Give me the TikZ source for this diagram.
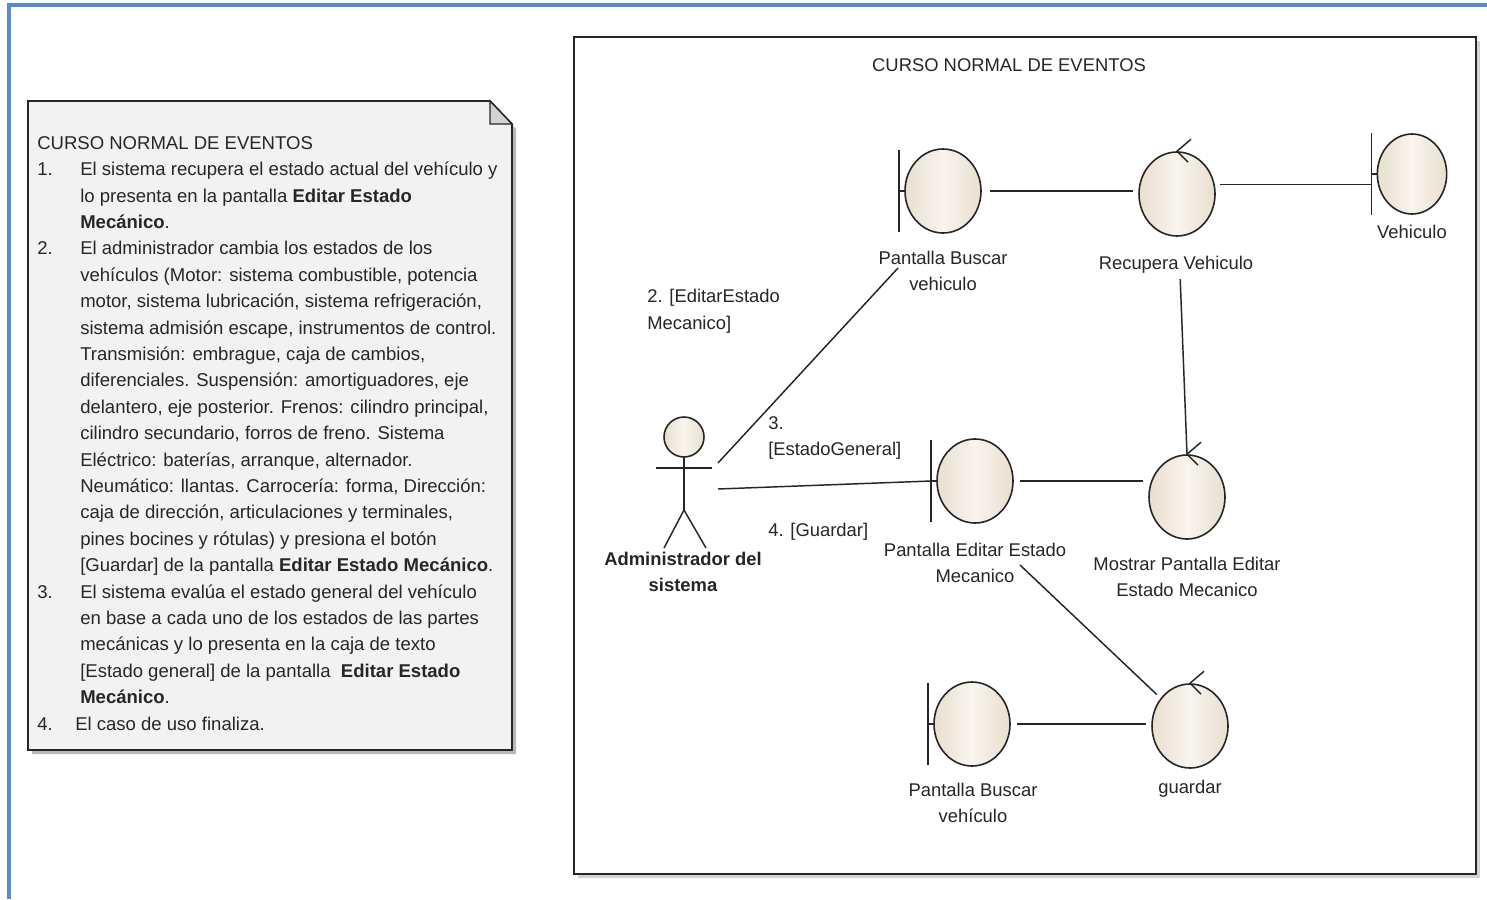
\documentclass[tikz,border=0pt]{standalone}
\usepackage{fontspec}
\setmainfont{Liberation Sans}
\usetikzlibrary{shapes.geometric,calc}

\definecolor{frameblue}{HTML}{5A8AD2}
\definecolor{inkgray}{HTML}{262626}
\definecolor{notefill}{HTML}{F2F2F2}
\definecolor{foldgray}{HTML}{D2D2D2}
\definecolor{shadowgray}{HTML}{B8B8B8}
\definecolor{beige}{HTML}{EADFCF}
\definecolor{beigelight}{HTML}{F8F4EF}

% item number column and continuation indent of the note
\newcommand\noteitem[1]{\makebox[32.25pt][l]{#1}}
\newcommand\notecont{\hspace*{32.25pt}}
% boundary bar on the left of an object
\newcommand\umlbar[1]{%
  \coordinate (#1bar) at ($(#1.west)+(-5,0)$);
  \draw[conn] ($(#1bar)+(0,-41)$) -- ($(#1bar)+(0,41)$);
  \draw[conn] (#1bar) -- (#1.west);}
% arrow mark on top of a control object
\newcommand\umlctl[1]{%
  \draw[conn] ($(#1.north)+(14,-12)$) -- (#1.north) -- ($(#1.north)+(11,11)$);}

\begin{document}
\begin{tikzpicture}[x=0.75pt,y=-0.75pt,
  lbl/.style={font=\fontsize{13.8}{20}\selectfont, text=inkgray, align=center, inner sep=0pt},
  obj/.style={ellipse, draw=inkgray, line width=1.2pt, minimum width=57pt, minimum height=63pt,
    inner sep=0pt, left color=beige, right color=beige, middle color=beigelight},
  conn/.style={draw=inkgray, line width=1.1pt}]
\useasboundingbox (0,0) rectangle (1487,899);

% page frame
\draw[frameblue, line width=2.3pt] (9,899) -- (9,5) -- (1487,5);

% ---------- note with the event flow ----------
\fill[shadowgray] (32,105) -- (494,105) -- (516,129) -- (516,754) -- (32,754) -- cycle;
\draw[inkgray, line width=1.3pt, fill=notefill]
  (28,101) -- (490,101) -- (512,124) -- (512,750) -- (28,750) -- cycle;
\draw[inkgray, line width=1pt, fill=foldgray] (490,101) -- (490,124) -- (512,124) -- cycle;

\node[anchor=north west, inner sep=0pt, align=left, text=inkgray,
      font=\fontsize{13.9}{19.8}\selectfont] (notetext) at (37,136) {%
CURSO NORMAL DE EVENTOS\\
\noteitem{1.}El sistema recupera el estado actual del vehículo y\\
\notecont lo presenta en la pantalla \textbf{Editar Estado}\\
\notecont\textbf{Mecánico}.\\
\noteitem{2.}El administrador cambia los estados de los\\
\notecont vehículos (Motor: sistema combustible, potencia\\
\notecont motor, sistema lubricación, sistema refrigeración,\\
\notecont sistema admisión escape, instrumentos de control.\\
\notecont Transmisión: embrague, caja de cambios,\\
\notecont diferenciales. Suspensión: amortiguadores, eje\\
\notecont delantero, eje posterior. Frenos: cilindro principal,\\
\notecont cilindro secundario, forros de freno. Sistema\\
\notecont Eléctrico: baterías, arranque, alternador.\\
\notecont Neumático: llantas. Carrocería: forma, Dirección:\\
\notecont caja de dirección, articulaciones y terminales,\\
\notecont pines bocines y rótulas) y presiona el botón\\
\notecont{}[Guardar] de la pantalla \textbf{Editar Estado Mecánico}.\\
\noteitem{3.}El sistema evalúa el estado general del vehículo\\
\notecont en base a cada uno de los estados de las partes\\
\notecont mecánicas y lo presenta en la caja de texto\\
\notecont{}[Estado general] de la pantalla \ \textbf{Editar Estado}\\
\notecont\textbf{Mecánico}.\\
\makebox[28.5pt][l]{4.}El caso de uso finaliza.};

% ---------- robustness diagram ----------
\fill[shadowgray!60] (578,41) rectangle (1480,878);
\draw[inkgray, line width=1.4pt, fill=white] (574,37) rectangle (1476,874);
\node[lbl] (title) at (1009,65) {CURSO NORMAL DE EVENTOS};

% objects
\node[obj] (b1) at (943,191) {};
\node[obj] (c1) at (1177,194) {};
\node[obj, minimum width=52pt, minimum height=60pt] (b2) at (1412,174) {};
\node[obj] (b3) at (975,481) {};
\node[obj] (c2) at (1187,497) {};
\node[obj] (b4) at (972,724) {};
\node[obj] (c3) at (1190,726) {};
\umlbar{b1}
\umlbar{b2}
\umlbar{b3}
\umlbar{b4}
\umlctl{c1}
\umlctl{c2}
\umlctl{c3}

% object names
\node[lbl] (b1l) at (943,271) {Pantalla Buscar\\vehiculo};
\node[lbl] (c1l) at (1176,265) {Recupera Vehiculo};
\node[lbl] (b2l) at (1412,232) {Vehiculo};
\node[lbl] (b3l) at (975,563) {Pantalla Editar Estado\\Mecanico};
\node[lbl] (c2l) at (1187,577) {Mostrar Pantalla Editar\\Estado Mecanico};
\node[lbl] (b4l) at (973,803) {Pantalla Buscar\\vehículo};
\node[lbl] (c3l) at (1190,789) {guardar};

% actor
\node[circle, draw=inkgray, line width=1.2pt, minimum size=30pt, inner sep=0pt,
      left color=beige, right color=beige, middle color=beigelight] (actor) at (684,437) {};
\coordinate (hip) at (684,510);
\draw[conn] (actor.south) -- (hip);
\draw[conn] (656,468) -- (712,468);
\draw[conn] (hip) -- (664,548);
\draw[conn] (hip) -- (706,548);
\node[lbl, font=\fontsize{13.8}{20}\selectfont\bfseries] (actorl) at (683,572) {Administrador del\\sistema};
\coordinate (actup) at (718,463);
\coordinate (actmid) at (718,489);
\coordinate (b1in) at (898,268);
\coordinate (b3out) at (1020,565);

% links
\draw[conn] (actup) -- (b1in);
\draw[conn] (actmid) -- (b3bar);
\draw[conn, shorten <=6pt, shorten >=4pt] (b1.east) -- (b1.east -| c1.west);
\draw[conn, shorten <=4pt] (c1.14) -- (c1.14 -| b2bar);
\draw[conn, shorten <=4pt] ([xshift=3pt]c1l.south) -- (c2.north);
\draw[conn, shorten <=5pt, shorten >=4pt] (b3.east) -- (b3.east -| c2.west);
\draw[conn, shorten >=4pt] (b3out) -- (c3);
\draw[conn, shorten <=5pt, shorten >=4pt] (b4.east) -- (b4.east -| c3.west);

% message labels
\node[lbl, align=left, anchor=west] (m2) at (647,311) {2. [EditarEstado\\Mecanico]};
\node[lbl, align=left, anchor=west] (m3) at (768,438) {3.\\{}[EstadoGeneral]};
\node[lbl, align=left, anchor=west] (m4) at (768,532) {4. [Guardar]};
\end{tikzpicture}
\end{document}
